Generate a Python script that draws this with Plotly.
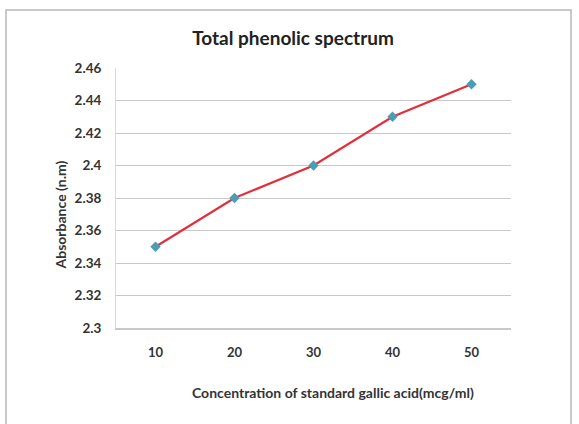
import plotly.graph_objects as go

concentration = ["10", "20", "30", "40", "50"]
absorbance = [2.35, 2.38, 2.40, 2.43, 2.45]
y_ticks = [2.30, 2.32, 2.34, 2.36, 2.38, 2.40, 2.42, 2.44, 2.46]
y_tick_labels = ["2.3", "2.32", "2.34", "2.36", "2.38", "2.4", "2.42", "2.44", "2.46"]

W, H = 579, 424
L, R, T, B = 116, 68, 68, 96
pw, ph = W - L - R, H - T - B

def px(x):
    return (x - L) / pw

def py(y):
    return (H - B - y) / ph

FONT = "Lato, 'Open Sans', sans-serif"

fig = go.Figure()
fig.add_trace(go.Scatter(
    x=concentration, y=absorbance, mode="lines+markers",
    line=dict(color="#e0303c", width=2.2),
    marker=dict(symbol="diamond", size=8, color="#4a9db5"),
    showlegend=False,
))

fig.update_layout(
    width=W, height=H,
    margin=dict(l=L, r=R, t=T, b=B),
    paper_bgcolor="white", plot_bgcolor="white",
    title=dict(text="<b>Total phenolic spectrum</b>", xref="container", x=293 / W,
               xanchor="center", yref="container", y=1 - 38 / H, yanchor="middle",
               font=dict(family=FONT, size=19, color="#222222")),
    xaxis=dict(type="category", range=[-0.5, 4.5], showgrid=False,
               showline=True, linecolor="#c8c8c8", linewidth=1.5,
               ticks="", tickfont=dict(family=FONT, size=13, color="#333333", weight="bold"),
               ticklabelstandoff=12),
    yaxis=dict(range=[2.30, 2.46], tickvals=y_ticks, ticktext=y_tick_labels,
               showgrid=True, gridcolor="#c8c8c8", gridwidth=1.3,
               showline=True, linecolor="#d8d8d8", linewidth=1,
               zeroline=False, ticks="",
               tickfont=dict(family=FONT, size=13.5, color="#333333", weight="bold"),
               ticklabelstandoff=11),
    font=dict(family=FONT),
)

fig.add_annotation(text="<b>Absorbance (n.m)</b>", xref="paper", yref="paper",
                   x=px(49), y=py(215), textangle=-90, showarrow=False,
                   font=dict(family=FONT, size=14, color="#333333"))
fig.add_annotation(text="<b>Concentration of standard gallic acid(mcg/ml)</b>",
                   xref="paper", yref="paper", x=px(333), y=py(403),
                   showarrow=False, font=dict(family=FONT, size=14, color="#333333"))

# outer chart border (left, top, right)
fig.add_shape(type="path", xref="paper", yref="paper",
              path=f"M {px(6)} {py(430)} L {px(6)} {py(10)} L {px(571)} {py(10)} L {px(571)} {py(430)}",
              line=dict(color="#b8b8b8", width=1.5))

fig.write_html("out.html")
